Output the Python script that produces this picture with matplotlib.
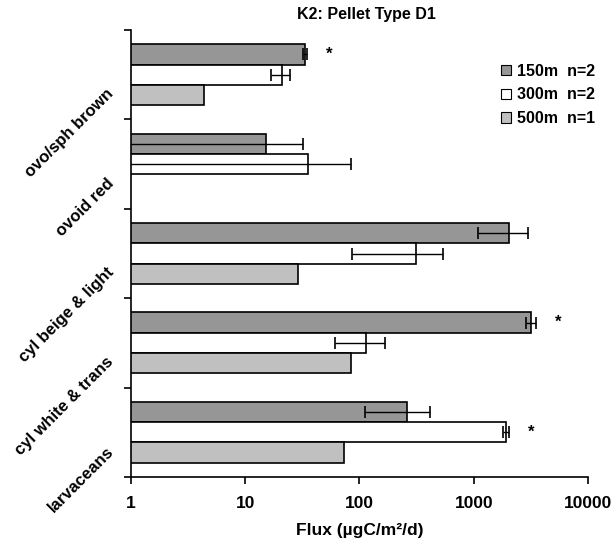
import matplotlib
matplotlib.use("Agg")
import matplotlib.pyplot as plt
import matplotlib.patches as mpatches
from matplotlib.transforms import ScaledTranslation
import numpy as np

plt.rcParams['font.family'] = ['Liberation Sans', 'DejaVu Sans']
plt.rcParams['font.weight'] = 'bold'

# pellet categories, top to bottom
categories = ["ovo/sph brown", "ovoid red", "cyl beige & light",
              "cyl white & trans", "larvaceans"]

# flux per depth (ugC/m2/d) and its error
flux_150 = [33.5, 15.3, 2030, 3180, 262]
err_150 = [1.2, 17, 930, 310, 150]
flux_300 = [20.8, 35.1, 311, 114, 1910]
err_300 = [4.0, 49, 225, 53, 110]
flux_500 = [4.35, np.nan, 29.1, 84.1, 73]

# significance marks
star_150 = [True, False, False, True, False]
star_300 = [False, False, False, False, True]

labels = ["150m  n=2", "300m  n=2", "500m  n=1"]
colors = ["#969696", "#ffffff", "#c0c0c0"]

LABEL_SIZE = 12
TICK_SIZE = 12.5

fig = plt.figure(figsize=(6.13, 5.47), dpi=100)
ax = fig.add_axes([0.2137, 0.128, 0.7455, 0.817])

ind = np.arange(len(categories))
h = 0.227
offsets = [-h, 0.0, h]
series = [(flux_150, err_150), (flux_300, err_300), (flux_500, None)]

for idx, (vals, errs) in enumerate(series):
    y = ind + offsets[idx]
    vals = np.array(vals, dtype=float)
    ax.barh(y, np.nan_to_num(vals), height=h, color=colors[idx],
            edgecolor='black', linewidth=1.2, zorder=2)
    if errs is not None:
        ax.errorbar(vals, y, xerr=errs, fmt='none', ecolor='black',
                    elinewidth=1.0, capsize=4, capthick=1.2, zorder=3)

# asterisks beside the upper error caps
for stars, vals, errs, off in [(star_150, flux_150, err_150, offsets[0]),
                               (star_300, flux_300, err_300, offsets[1])]:
    for i, s in enumerate(stars):
        if s:
            ax.annotate("*", xy=(vals[i] + errs[i], i + off), xytext=(16, 0),
                        textcoords='offset points', ha='center', va='center',
                        fontsize=12, fontweight='bold')

ax.set_xscale('log')
ax.set_xlim(1, 10000)
ax.set_ylim(len(categories) - 0.5, -0.5)
ax.set_xticks([1, 10, 100, 1000, 10000])
ax.set_xticklabels(["1", "10", "100", "1000", "10000"], fontsize=TICK_SIZE,
                   fontweight='bold')
ax.xaxis.set_minor_locator(matplotlib.ticker.NullLocator())
ax.tick_params(axis='x', direction='out', length=5, width=1.2, pad=9)

# category ticks sit on the boundaries, labels at the centres
ax.set_yticks(np.arange(-0.5, len(categories) + 0.5, 1.0))
ax.set_yticklabels([])
ax.set_yticks(ind, minor=True)
ax.set_yticklabels(categories, minor=True, rotation=45, ha='right', va='top',
                   rotation_mode='anchor', fontsize=LABEL_SIZE, fontweight='bold')
ax.tick_params(axis='y', which='major', direction='out', length=5, width=1.2)
ax.tick_params(axis='y', which='minor', length=0, pad=18)
shift = ScaledTranslation(0, -8 / 72, fig.dpi_scale_trans)
for lab in ax.get_yticklabels(minor=True):
    lab.set_transform(lab.get_transform() + shift)

for side in ['top', 'right']:
    ax.spines[side].set_visible(False)
for side in ['left', 'bottom']:
    ax.spines[side].set_linewidth(1.2)

ax.set_xlabel("Flux (\u00b5gC/m\u00b2/d)", fontsize=12.5, fontweight='bold',
              labelpad=8)
fig.text(0.597, 0.974, "K2: Pellet Type D1", ha='center', va='center',
         fontsize=11.5, fontweight='bold')

handles = [mpatches.Patch(facecolor=c, edgecolor='black', linewidth=0.8)
           for c in colors]
ax.legend(handles, labels, loc='upper right', bbox_to_anchor=(0.995, 0.91),
          bbox_transform=fig.transFigure, frameon=False,
          handlelength=0.6, handleheight=0.6, handletextpad=0.4,
          labelspacing=0.55, prop={'weight': 'bold', 'size': 11.5})

fig.savefig("out.png", dpi=100)
